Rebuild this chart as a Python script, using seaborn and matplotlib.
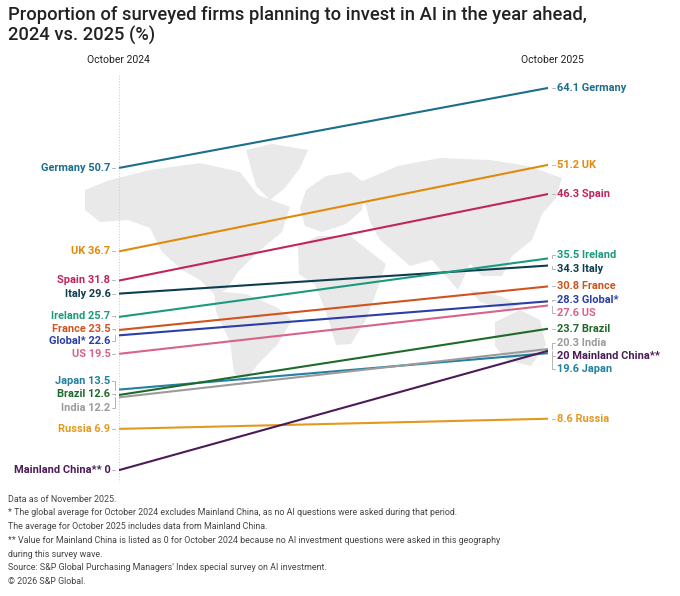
"""
Slope chart: share of surveyed firms planning to invest in AI, October 2024 vs October 2025.
Writes out.png.
"""

import pandas as pd
import seaborn as sns
import matplotlib
import matplotlib.pyplot as plt
from matplotlib.patches import Polygon
from matplotlib.transforms import Affine2D

matplotlib.use("Agg")

countries = ["Germany", "UK", "Spain", "Italy", "Ireland", "France", "Global*", "US",
             "Japan", "Brazil", "India", "Russia", "Mainland China**"]
oct_2024 = [50.7, 36.7, 31.8, 29.6, 25.7, 23.5, 22.6, 19.5, 13.5, 12.6, 12.2, 6.9, 0]
oct_2025 = [64.1, 51.2, 46.3, 34.3, 35.5, 30.8, 28.3, 27.6, 19.6, 23.7, 20.3, 8.6, 20]
periods = ["October 2024", "October 2025"]

colors = {
    "Germany": "#1b6e8c", "UK": "#e08a0c", "Spain": "#c1245e", "Italy": "#0f3d50",
    "Ireland": "#1c9a7e", "France": "#d0531c", "Global*": "#2b3ea6", "US": "#d9628c",
    "Japan": "#2380a0", "Brazil": "#1f6a2a", "India": "#9b9b9b", "Russia": "#e3991f",
    "Mainland China**": "#4b1b58",
}

# where the labels sit when they would otherwise overlap (values, not data)
left_label_y = {"Ireland": 25.9, "France": 23.7, "Global*": 21.6, "Japan": 15.0,
                "Brazil": 12.8, "India": 10.4}
right_label_y = {"Ireland": 36.0, "Italy": 33.8, "Global*": 28.5, "US": 26.3,
                 "India": 21.3, "Mainland China**": 19.1, "Japan": 16.9}

W, H = 680, 596
X0, X1 = 119.5, 548.0          # pixel columns of the two axes
Y_ZERO, PX_PER_UNIT = 470.0, 5.96


def px_to_fig():
    return Affine2D().scale(1 / W, -1 / H).translate(0, 1)


def draw_map(fig, ax):
    # very rough world silhouette in the background, pixel coords
    shapes = [
        [(85, 190), (110, 180), (150, 170), (200, 163), (240, 172), (258, 195), (290, 207),
         (282, 232), (258, 252), (238, 272), (226, 290), (214, 294), (200, 280), (182, 270),
         (162, 252), (150, 228), (128, 220), (100, 222), (85, 210)],
        [(246, 150), (272, 144), (308, 150), (300, 168), (285, 188), (270, 200), (256, 186)],
        [(214, 291), (246, 294), (278, 308), (292, 320), (277, 345), (258, 364), (243, 384),
         (234, 372), (230, 342), (216, 312)],
        [(300, 208), (306, 190), (326, 176), (350, 172), (366, 184), (362, 210), (346, 224),
         (322, 232), (305, 226)],
        [(298, 246), (318, 236), (350, 236), (368, 250), (386, 264), (377, 290), (366, 320),
         (351, 344), (336, 345), (326, 312), (315, 285), (299, 274)],
        [(360, 182), (398, 166), (440, 158), (490, 160), (528, 166), (562, 178), (556, 198),
         (542, 214), (532, 240), (512, 256), (502, 276), (482, 276), (470, 264), (458, 290),
         (446, 276), (432, 260), (410, 266), (394, 252), (380, 240), (370, 222)],
        [(470, 290), (500, 296), (520, 305), (505, 310), (480, 302)],
        [(495, 322), (520, 310), (540, 320), (546, 345), (531, 366), (506, 360), (495, 346)],
    ]
    tr = px_to_fig() + fig.transFigure
    for pts in shapes:
        ax.add_patch(Polygon(pts, closed=True, transform=tr, facecolor="#e9e9e9",
                             edgecolor="none", zorder=0, clip_on=False))


def plot_slope():
    sns.set_theme(style="white")
    plt.rcParams["font.family"] = ["Roboto", "DejaVu Sans"]

    df = pd.DataFrame({
        "country": countries * 2,
        "period": [0] * len(countries) + [1] * len(countries),
        "value": oct_2024 + oct_2025,
    })

    fig = plt.figure(figsize=(W / 100, H / 100), dpi=100)
    top_px, bot_px = 75, 482
    ax = fig.add_axes([X0 / W, 1 - bot_px / H, (X1 - X0) / W, (bot_px - top_px) / H])
    ax.set_xlim(0, 1)
    ax.set_ylim((Y_ZERO - bot_px) / PX_PER_UNIT, (Y_ZERO - top_px) / PX_PER_UNIT)
    ax.axis("off")

    draw_map(fig, ax)

    for x in (0, 1):
        ax.axvline(x, color="#cfcfcf", lw=0.8, ls=(0, (1, 1.5)), zorder=1)

    sns.lineplot(data=df, x="period", y="value", hue="country", palette=colors,
                 hue_order=countries, lw=1.5, legend=False, ax=ax, zorder=3)

    unit = 1 / (X1 - X0)  # one pixel in x data units
    for name, a, b in zip(countries, oct_2024, oct_2025):
        c = colors[name]
        ly = left_label_y.get(name, a)
        ry = right_label_y.get(name, b)
        ax.plot([-7 * unit, -4 * unit, -4 * unit], [ly, ly, a],
                color="#b5b5b5", lw=0.7, clip_on=False)
        ax.plot([1 + 4 * unit, 1 + 4 * unit, 1 + 7 * unit], [b, ry, ry],
                color="#b5b5b5", lw=0.7, clip_on=False)
        ax.text(-9 * unit, ly, f"{name} {a:g}", ha="right", va="center", color=c,
                fontsize=7.9, fontweight="semibold", clip_on=False)
        ax.text(1 + 9 * unit, ry, f"{b:g} {name}", ha="left", va="center", color=c,
                fontsize=7.9, fontweight="semibold", clip_on=False)

    fig.text(118 / W, 1 - 60 / H, periods[0], ha="center", va="center", fontsize=7.5,
             color="#222222")
    fig.text(552 / W, 1 - 60 / H, periods[1], ha="center", va="center", fontsize=7.5,
             color="#222222")

    fig.text(8 / W, 1 - 6 / H,
             "Proportion of surveyed firms planning to invest in AI in the year ahead,\n"
             "2024 vs. 2025 (%)", ha="left", va="top", fontsize=13.2, color="#222222",
             fontweight="medium", linespacing=1.12)

    notes = [
        "Data as of November 2025.",
        "* The global average for October 2024 excludes Mainland China, as no AI questions were asked during that period.",
        "The average for October 2025 includes data from Mainland China.",
        "** Value for Mainland China is listed as 0 for October 2024 because no AI investment questions were asked in this geography",
        "during this survey wave.",
        "Source: S&P Global Purchasing Managers' Index special survey on AI investment.",
        "\u00a9 2026 S&P Global.",
    ]
    for i, line in enumerate(notes):
        fig.text(8 / W, 1 - (499 + i * 13.8) / H, line, ha="left", va="center",
                 fontsize=6.4, color="#444444")

    fig.savefig("out.png", dpi=100, facecolor="white")


def main():
    plot_slope()


if __name__ == "__main__":
    main()
